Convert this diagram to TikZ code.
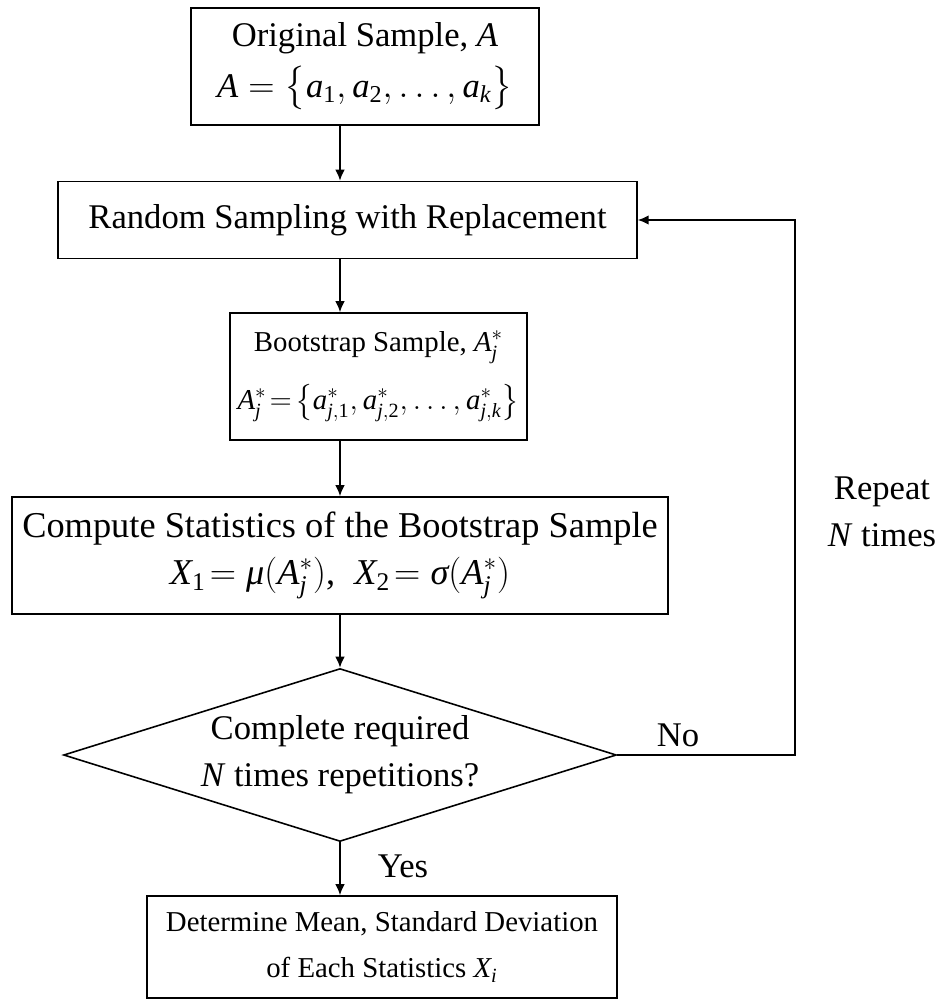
\documentclass[tikz,border=0pt]{standalone}
\usepackage{amsmath}
\usepackage{fontspec}
\setmainfont{Liberation Serif}
\usetikzlibrary{shapes.geometric,arrows.meta}
\newcommand{\vi}[1]{\textit{#1}}
\newcommand{\up}[1]{\textup{#1}}

\begin{document}
\begin{tikzpicture}[x=0.02cm, y=-0.02cm, line width=0.9pt, >={Latex[length=2.2mm,width=1.9mm]},
    font=\fontsize{19.7}{26.7}\selectfont,
    box/.style = {draw, rectangle, align=center, inner sep=0pt},
    small/.style = {font=\fontsize{16.4}{25}\selectfont},
    decide/.style = {draw, diamond, align=center, inner sep=0pt, aspect=3.2}]
\useasboundingbox (0,0) rectangle (934,1000);
    \coordinate (spine) at (340,0);
    \coordinate (loop) at (795,0);

    \node[box, minimum width=6.96cm, minimum height=2.34cm] (orig) at (365,66.5)
        {Original Sample, \vi{A}\\[2pt] $\vi{A}=\bigl\{\vi{a}_{\up{1}},\vi{a}_{\up{2}},\dots,\vi{a}_{\vi{k}}\bigr\}$};
    \node[box, minimum width=11.58cm, minimum height=1.54cm] (resamp) at (347.5,220)
        {Random Sampling with Replacement};
    \node[box, small, minimum width=5.94cm, minimum height=2.54cm] (boot) at (378.5,376.5)
        {Bootstrap Sample, $\vi{A}^{*}_{\vi{j}}$\\[8pt]
         $\vi{A}^{*}_{\vi{j}}\!=\!\bigl\{\vi{a}^{*}_{\vi{j},\up{1}},\vi{a}^{*}_{\vi{j},\up{2}},\dots,\vi{a}^{*}_{\vi{j},\vi{k}}\bigr\}$};
    \node[box, font=\fontsize{20.7}{27}\selectfont, minimum width=13.12cm, minimum height=2.34cm] (stats) at (340,555.5)
        {Compute Statistics of the Bootstrap Sample\\
         $\vi{X}_{\up{1}}\!=\vi{μ}(\vi{A}^{*}_{\vi{j}})$,\; $\vi{X}_{\up{2}}\!=\vi{σ}(\vi{A}^{*}_{\vi{j}})$};
    \node[decide, minimum width=11.06cm, minimum height=3.46cm] (check) at (340,755)
        {Complete required\\ \vi{N} times repetitions?};
    \node[box, small, minimum width=9.4cm, minimum height=2.04cm] (final) at (382,947)
        {Determine Mean, Standard Deviation\\[1pt] of Each Statistics $\vi{X}_{\vi{i}}$};

    \node (no) at (678,735) {No};
    \node (yes) at (403,866) {Yes};
    \node[align=center] (repeat) at (882,512) {Repeat\\ \vi{N} times};

\draw[->] (orig.south -| spine) -- (resamp.north -| spine);
\draw[->] (resamp.south -| spine) -- (boot.north -| spine);
\draw[->] (boot.south -| spine) -- (stats.north -| spine);
\draw[->] (stats.south -| spine) -- (check.north);
\draw[->] (check.south) -- (final.north -| spine);
\draw[->] (check.east) -- (check.east -| loop) |- (resamp.east);
\end{tikzpicture}
\end{document}
